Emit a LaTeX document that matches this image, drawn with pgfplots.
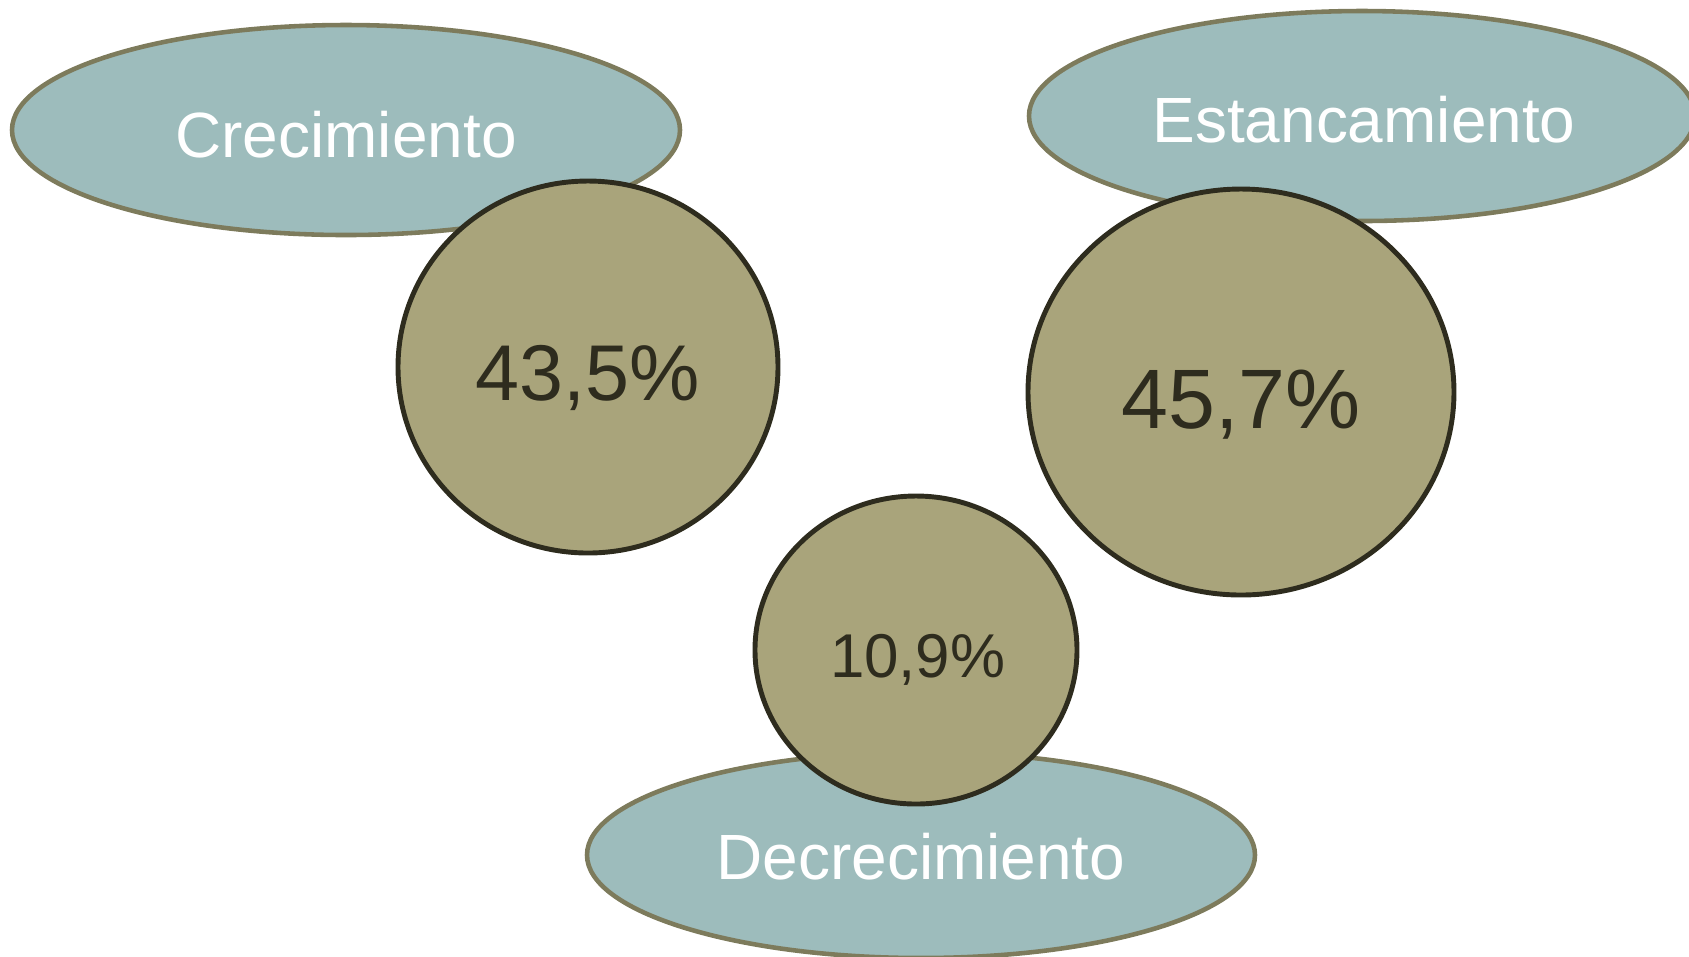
\documentclass[border=0pt]{standalone}
\usepackage{pgfplots}
\pgfplotsset{compat=1.18}
\usepackage{fontspec}
\setmainfont{Liberation Sans}

\definecolor{ellfill}{HTML}{9DBCBC}
\definecolor{elldraw}{HTML}{7D7B5C}
\definecolor{cirfill}{HTML}{A9A47B}
\definecolor{cirdraw}{HTML}{2E2C1E}

% ellipse mark, radii given in pt through \rx and \ry
\pgfdeclareplotmark{ell}{%
  \pgfpathellipse{\pgfpointorigin}{\pgfqpoint{\rx pt}{0pt}}{\pgfqpoint{0pt}{\ry pt}}%
  \pgfusepathqfillstroke}

\begin{document}
\begin{tikzpicture}
\begin{axis}[
  hide axis,
  x=0.1mm, y=0.1mm, y dir=reverse,
  xmin=0, xmax=1689, ymin=0, ymax=956,
  clip mode=global,
  visualization depends on={0.284528*\thisrow{rx}\as\rx},
  visualization depends on={0.284528*\thisrow{ry}\as\ry},
]
% ovals with the categories
\addplot[only marks, mark=ell, mark options={fill=ellfill, draw=elldraw, line width=1.3pt}]
table {
x    y   rx  ry
346  130 334 105
1362 116 333 105
921  855 334 103
};
% circles with the shares
\addplot[only marks, mark=ell, mark options={fill=cirfill, draw=cirdraw, line width=1.4pt}]
table {
x    y   rx  ry
588  367 190 186
1241 392 213 203
916  650 161 154
};
\end{axis}
\begin{axis}[
  hide axis,
  x=0.1mm, y=0.1mm, y dir=reverse,
  xmin=0, xmax=1689, ymin=0, ymax=956,
  visualization depends on={\thisrow{fs}\as\fs},
  nodes near coords, point meta=explicit symbolic,
  every node near coord/.style={anchor=base, inner sep=0pt,
    font=\fontsize{\fs}{\fs}\selectfont},
]
\addplot[draw=none, mark=none, every node near coord/.append style={text=white}]
table[meta=lab] {
x    y   fs   lab
346  157 18.2 Crecimiento
1364 142 18.2 Estancamiento
921  879 18.2 Decrecimiento
};
\addplot[draw=none, mark=none, every node near coord/.append style={text=cirdraw}]
table[meta=lab] {
x     y   fs   lab
588   400 22.5 43,5\%
1241  428 24.0 45,7\%
917.7 677 17.6 10,9\%
};
\end{axis}
\pgfresetboundingbox
\path (current axis.south west) rectangle (current axis.north east);
\end{tikzpicture}
\end{document}
